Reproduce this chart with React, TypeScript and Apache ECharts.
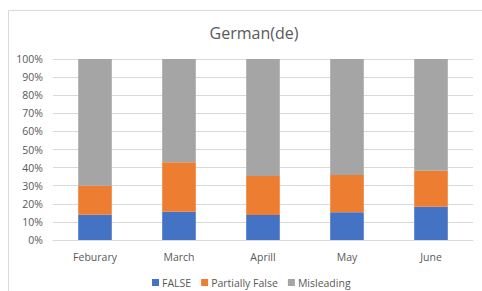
import React, { useEffect, useRef } from "react";
import * as echarts from "echarts";

const categories = ["Feburary", "March", "Aprill", "May", "June"];
const falseValues = [14.0, 15.6, 13.8, 15.3, 18.4];
const partialValues = [16.0, 27.3, 21.6, 20.6, 19.9];
const misleadingValues = [70.0, 57.1, 64.6, 64.1, 61.7];
const seriesNames = ["FALSE", "Partially False", "Misleading"];
const colors = ["#4472C4", "#ED7D31", "#A5A5A5"];

const FONT = "'Open Sans', 'Noto Sans', sans-serif";

export default function App() {
  const ref = useRef<HTMLDivElement>(null);
  useEffect(() => {
    if (!ref.current) return;
    const chart = echarts.init(ref.current, undefined, { renderer: "svg" });
    const data = [falseValues, partialValues, misleadingValues];
    chart.setOption({
      animation: false,
      backgroundColor: "#ffffff",
      title: {
        text: "German(de)",
        left: 249,
        textAlign: "center",
        top: 20,
        textStyle: { fontFamily: FONT, fontSize: 16, fontWeight: "normal", color: "#595959" },
      },
      graphic: [
        {
          type: "rect",
          shape: { x: 8.5, y: 10.5, width: 600, height: 400 },
          style: { fill: "none", stroke: "#D9D9D9", lineWidth: 1 },
          silent: true,
        },
      ],
      legend: {
        left: 147,
        top: 272,
        itemWidth: 7,
        itemHeight: 7,
        itemGap: 10,
        icon: "rect",
        textStyle: { fontFamily: FONT, fontSize: 10.5, color: "#595959", padding: [0, 0, 0, -2] },
        data: seriesNames,
      },
      grid: { left: 53, right: 9, top: 59, bottom: 51, containLabel: false },
      xAxis: {
        type: "category",
        data: categories,
        axisTick: { show: false },
        axisLine: { lineStyle: { color: "#D9D9D9" } },
        axisLabel: { fontFamily: FONT, fontSize: 10.5, color: "#595959", margin: 11 },
      },
      yAxis: {
        type: "value",
        min: 0,
        max: 100,
        interval: 10,
        axisLine: { show: false },
        axisTick: { show: false },
        splitLine: { lineStyle: { color: "#D9D9D9" } },
        axisLabel: {
          fontFamily: FONT,
          fontSize: 10.5,
          color: "#595959",
          margin: 10,
          formatter: (v: number) => v + "%",
        },
      },
      series: seriesNames.map((name, i) => ({
        name,
        type: "bar",
        stack: "total",
        barWidth: "40%",
        itemStyle: { color: colors[i] },
        data: data[i],
      })),
    });
    return () => chart.dispose();
  }, []);
  return (
    <div style={{ position: "fixed", left: 0, top: 0, width: 482, height: 291 }}>
      <div ref={ref} style={{ width: 482, height: 291 }} />
    </div>
  );
}
